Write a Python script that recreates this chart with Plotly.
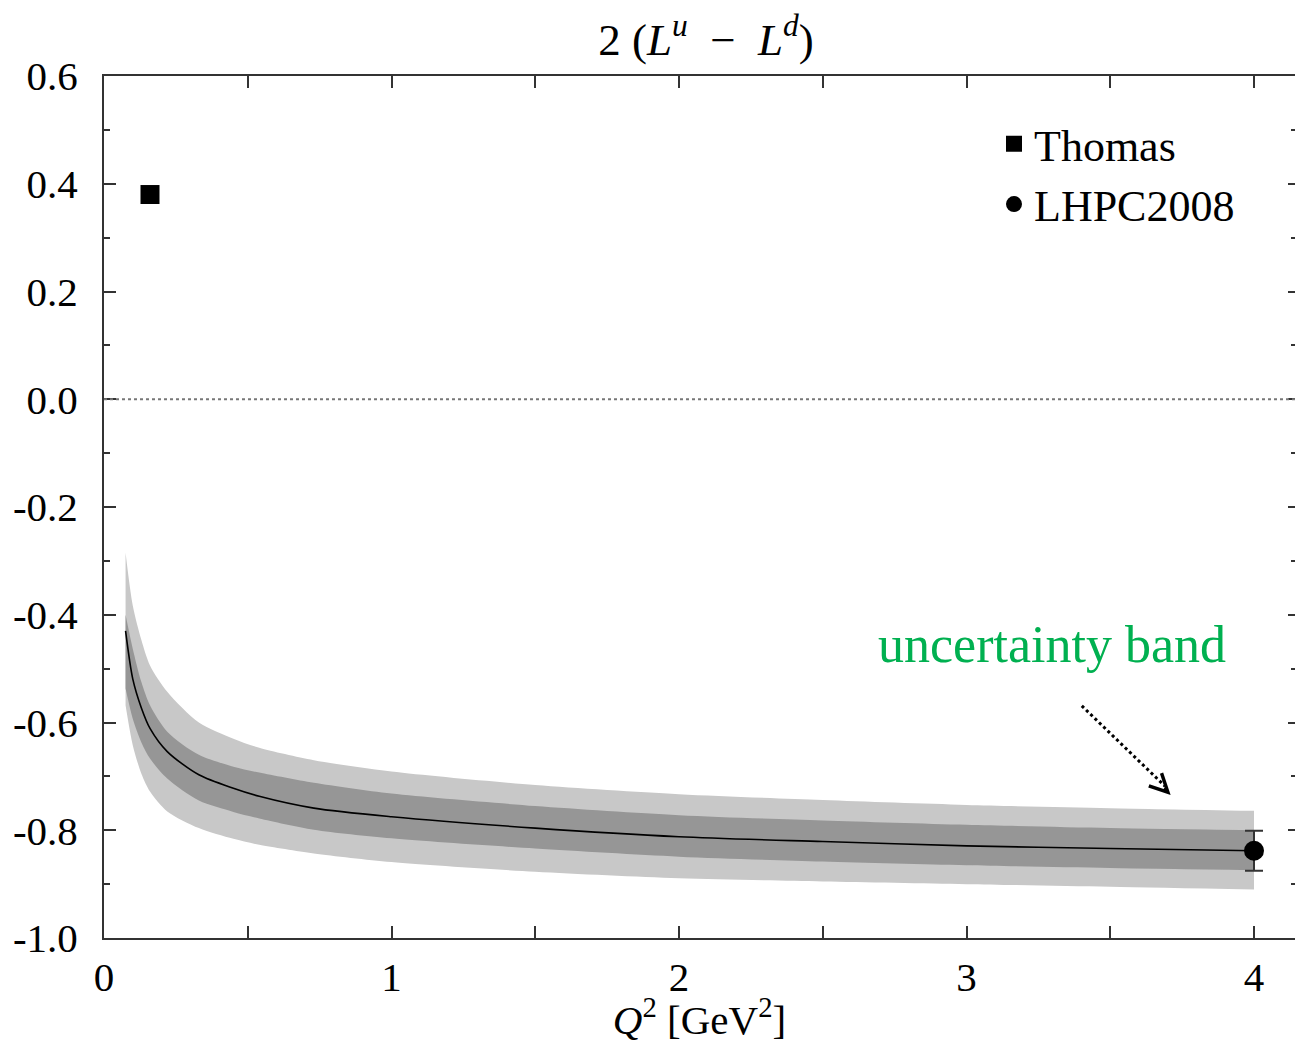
import plotly.graph_objects as go

# ---- data ----
q2 = [0.075, 0.1, 0.13, 0.16, 0.22, 0.33, 0.45, 0.54, 0.73, 1.0, 1.5, 2.0, 2.5, 3.0, 3.5, 4.0]
central = [-0.43, -0.519, -0.573, -0.611, -0.654, -0.697, -0.722, -0.737, -0.759, -0.775, -0.796, -0.812, -0.821, -0.829, -0.834, -0.838]
light_top = [-0.285, -0.383, -0.447, -0.494, -0.543, -0.600, -0.630, -0.647, -0.670, -0.691, -0.716, -0.733, -0.744, -0.753, -0.759, -0.764]
light_bot = [-0.568, -0.642, -0.695, -0.728, -0.765, -0.796, -0.816, -0.827, -0.843, -0.859, -0.877, -0.889, -0.895, -0.900, -0.905, -0.910]
dark_top = [-0.40, -0.463, -0.525, -0.568, -0.617, -0.660, -0.682, -0.693, -0.712, -0.732, -0.755, -0.772, -0.782, -0.790, -0.796, -0.800]
dark_bot = [-0.537, -0.593, -0.637, -0.667, -0.704, -0.745, -0.766, -0.778, -0.799, -0.815, -0.834, -0.849, -0.858, -0.865, -0.870, -0.874]

thomas_x = [0.16]
thomas_y = [0.38]
lhpc_x = [4.0]
lhpc_y = [-0.838]
lhpc_err = [0.037]

x_tickvals = [0, 1, 2, 3, 4]
x_ticktext = ["0", "1", "2", "3", "4"]
y_tickvals = [0.6, 0.4, 0.2, 0.0, -0.2, -0.4, -0.6, -0.8, -1.0]
y_ticktext = ["0.6", "0.4", "0.2", "0.0", "-0.2", "-0.4", "-0.6", "-0.8", "-1.0"]

FONT = "Liberation Serif, Times New Roman, serif"
LIGHT = "#c8c8c8"
DARK = "#969696"
AX = "#333333"

# page body has an 8px margin; keep the figure inside the window so no scrollbars appear
OFF = 8
W, H = 1303 - 2 * OFF, 1051 - 2 * OFF
L = 104 - OFF

fig = go.Figure()

SM = 0.8
# light (outer) band
fig.add_trace(go.Scatter(x=q2, y=light_bot, mode="lines", line=dict(width=0, color=LIGHT, shape="spline", smoothing=SM),
                         showlegend=False, hoverinfo="skip"))
fig.add_trace(go.Scatter(x=q2, y=light_top, mode="lines", line=dict(width=0, color=LIGHT, shape="spline", smoothing=SM),
                         fill="tonexty", fillcolor=LIGHT, showlegend=False, hoverinfo="skip"))
# dark (inner) band
fig.add_trace(go.Scatter(x=q2, y=dark_bot, mode="lines", line=dict(width=0, color=DARK, shape="spline", smoothing=SM),
                         showlegend=False, hoverinfo="skip"))
fig.add_trace(go.Scatter(x=q2, y=dark_top, mode="lines", line=dict(width=0, color=DARK, shape="spline", smoothing=SM),
                         fill="tonexty", fillcolor=DARK, showlegend=False, hoverinfo="skip"))
# central curve
fig.add_trace(go.Scatter(x=q2, y=central, mode="lines", line=dict(width=1.6, color="black", shape="spline", smoothing=SM),
                         showlegend=False))

# data points
fig.add_trace(go.Scatter(x=thomas_x, y=thomas_y, mode="markers", name="Thomas",
                         marker=dict(symbol="square", size=19, color="black")))
fig.add_trace(go.Scatter(x=lhpc_x, y=lhpc_y, mode="markers", name="LHPC2008",
                         marker=dict(symbol="circle", size=20, color="black"),
                         error_y=dict(type="data", array=lhpc_err, visible=True, color=AX, thickness=2, width=9)))

# empty trace that carries the right-hand tick axis (the frame's right edge is cropped in the reference)
fig.add_trace(go.Scatter(x=[], y=[], yaxis="y2", showlegend=False, hoverinfo="skip"))

# dotted zero line
fig.add_shape(type="line", xref="paper", yref="y", x0=0, x1=1, y0=0, y1=0,
              line=dict(color="#777777", width=2, dash="dot"))

# annotation text and dotted arrow
fig.add_annotation(x=3.296, y=-0.455, xref="x", yref="y", text="uncertainty band", showarrow=False,
                   font=dict(family=FONT, size=52, color="#00b050"))
fig.add_shape(type="line", xref="x", yref="y", x0=3.401, y0=-0.569, x1=3.69, y1=-0.718,
              line=dict(color="black", width=3, dash="dot"))
fig.add_annotation(x=3.71, y=-0.7346, xref="x", yref="y", ax=-8, ay=-8, text="", showarrow=True,
                   arrowhead=5, arrowsize=1.6, arrowwidth=2.2, arrowcolor="black")

fig.update_layout(
    width=W, height=H,
    margin=dict(l=L, r=0, t=76 - OFF, b=H - (940 - OFF)),
    paper_bgcolor="white", plot_bgcolor="white",
    font=dict(family=FONT, size=41, color="black"),
    title=dict(text="2&nbsp;(<i>L</i><sup><i>u</i></sup>&nbsp;&nbsp;−&nbsp;&nbsp;<i>L</i><sup><i>d</i></sup>)",
               x=(706 - OFF) / W, xanchor="center", y=1 - (39 - OFF) / H, yanchor="middle", yref="container",
               font=dict(family=FONT, size=45, color="black")),
    legend=dict(x=(994 - 104) / (W - L), xanchor="left", y=0.962, yanchor="top", bgcolor="rgba(0,0,0,0)",
                traceorder="normal",
                font=dict(family=FONT, size=44, color="black"), itemwidth=30),
    xaxis=dict(range=[0, (W - L) / 287.5], tickvals=x_tickvals, ticktext=x_ticktext,
               ticks="inside", ticklen=12, tickwidth=2, tickcolor=AX,
               showline=True, linecolor=AX, linewidth=2, mirror="allticks",
               showgrid=False, zeroline=False, ticklabelstandoff=2,
               minor=dict(dtick=0.5, tick0=0, ticks="inside", ticklen=6, tickwidth=2, tickcolor=AX, showgrid=False),
               title=dict(text="<i>Q</i><sup>2</sup> [GeV<sup>2</sup>]", standoff=14,
                          font=dict(family=FONT, size=41, color="black"))),
    yaxis=dict(range=[-1.0, 0.6], tickvals=y_tickvals, ticktext=y_ticktext,
               ticks="inside", ticklen=12, tickwidth=2, tickcolor=AX,
               showline=True, linecolor=AX, linewidth=2, mirror=False,
               showgrid=False, zeroline=False, ticklabelstandoff=16,
               minor=dict(dtick=0.1, tick0=0, ticks="inside", ticklen=6, tickwidth=2, tickcolor=AX, showgrid=False)),
    yaxis2=dict(range=[-1.0, 0.6], overlaying="y", side="right", anchor="x", tickvals=y_tickvals,
                showticklabels=False, ticks="inside", ticklen=7, tickwidth=2, tickcolor=AX,
                showline=False, showgrid=False, zeroline=False,
                minor=dict(dtick=0.1, tick0=0, ticks="inside", ticklen=4, tickwidth=2, tickcolor=AX, showgrid=False)),
)

fig.write_html("out.html")
